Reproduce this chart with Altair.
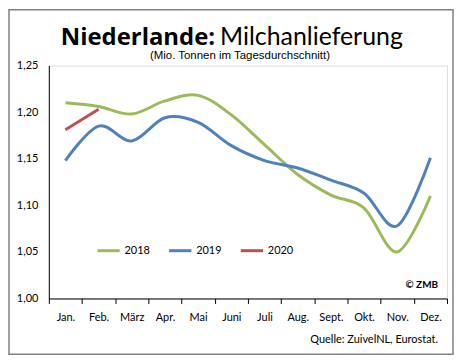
import altair as alt
import pandas as pd

months = ["Jan.", "Feb.", "März", "Apr.", "Mai", "Juni", "Juli", "Aug.", "Sept.", "Okt.", "Nov.", "Dez."]
v2018 = [1.210, 1.206, 1.198, 1.212, 1.218, 1.197, 1.165, 1.133, 1.111, 1.097, 1.050, 1.110]
v2019 = [1.148, 1.185, 1.169, 1.194, 1.189, 1.164, 1.148, 1.140, 1.127, 1.113, 1.078, 1.151]
v2020 = [1.181, 1.203]
years = ["2018", "2019", "2020"]
colors = ["#9BBB59", "#4F81BD", "#C0504D"]

rows = []
for yr, vals in zip(years, [v2018, v2019, v2020]):
    for i, v in enumerate(vals):
        rows.append({"m": i + 0.5, "value": v, "year": yr})
df = pd.DataFrame(rows)

W, H = 400, 234
FONT = "Lato"
label_expr = "datum.value < 12 ? " + str(months) + "[datum.value] : ''"

lines = alt.Chart(df).mark_line(interpolate="cardinal", strokeWidth=3).encode(
    x=alt.X("m:Q", scale=alt.Scale(domain=[0, 12], nice=False, zero=False),
            axis=alt.Axis(values=list(range(13)), labelExpr=label_expr, labelOffset=W / 24,
                          title=None, grid=False, domainColor="black", tickColor="black",
                          tickSize=5, labelFontSize=11, labelFont=FONT, labelColor="black",
                          labelPadding=8, labelFlush=False, labelOverlap=False)),
    y=alt.Y("value:Q", scale=alt.Scale(domain=[1.0, 1.25], nice=False, zero=False),
            axis=alt.Axis(values=[1.0, 1.05, 1.10, 1.15, 1.20, 1.25], format=".2f",
                          labelExpr="replace(datum.label, '.', ',')", title=None, grid=False,
                          ticks=False, domainColor="black", labelFontSize=11, labelFont=FONT,
                          labelColor="black", labelPadding=11)),
    color=alt.Color("year:N", scale=alt.Scale(domain=years, range=colors),
                    legend=alt.Legend(title=None, orient="none", legendX=47, legendY=173,
                                      direction="horizontal", symbolType="stroke",
                                      symbolSize=500, symbolStrokeWidth=3, labelFontSize=11,
                                      labelFont=FONT, labelColor="black", columnPadding=12,
                                      labelOffset=3, padding=0)),
)

def txt(text, x, y, size, align="left", weight="normal", font=FONT):
    return alt.Chart(pd.DataFrame({"t": [text]})).mark_text(
        align=align, baseline="alphabetic", fontSize=size, fontWeight=weight, font=font,
        color="black").encode(x=alt.value(x), y=alt.value(y), text="t:N")

frame = alt.Chart(pd.DataFrame({"a": [0]})).mark_rect(
    fill=None, stroke="#808080", strokeWidth=1.5).encode(
    x=alt.value(-40), x2=alt.value(406), y=alt.value(-56), y2=alt.value(290))

chart = alt.layer(
    frame,
    lines,
    txt("Niederlande:", 167, -21, 24, align="right", weight="bold", font="Open Sans"),
    txt("Milchanlieferung", 172, -21, 25),
    txt("(Mio. Tonnen im Tagesdurchschnitt)", 192, -7, 11.5, align="center", font="Liberation Sans"),
    txt("© ZMB", 391, 223, 10, align="right", weight="bold"),
    txt("Quelle: ZuivelNL, Eurostat.", 391, 279, 11, align="right"),
).properties(
    width=W, height=H,
    autosize=alt.AutoSizeParams(type="none"),
    padding={"left": 41, "top": 57, "right": 7, "bottom": 57},
).configure_view(stroke=None).configure(background="white")

chart.save("out.html", embed_options={"renderer": "svg", "actions": False})
